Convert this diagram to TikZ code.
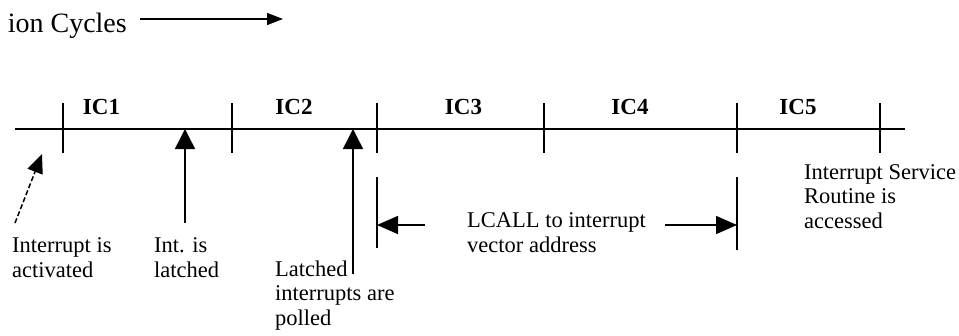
\documentclass[tikz,border=0pt]{standalone}
\usepackage{fontspec}
\setmainfont{Liberation Serif}
\usetikzlibrary{arrows.meta}
\begin{document}
\begin{tikzpicture}[x=1pt,y=-1pt,
  lbl/.style={font=\fontsize{22.5}{24.5}\selectfont, anchor=base west, inner sep=0pt, align=left},
  iclbl/.style={font=\fontsize{23}{26}\selectfont\bfseries, anchor=base, inner sep=0pt},
  axisline/.style={line width=1.6pt},
  tickline/.style={line width=1.5pt},
  shaft/.style={line width=1.5pt},
  uptip/.style={shaft, -{Triangle[length=20pt,width=20pt]}},
  sidetip/.style={shaft, -{Triangle[length=21pt,width=18pt]}},
  dashtip/.style={shaft, dash pattern=on 5pt off 2.5pt, -{Triangle[length=19pt,width=16pt]}},
  toptip/.style={line width=1.3pt, -{Triangle[length=16pt,width=12pt]}}
]
\useasboundingbox (0,0) rectangle (959,335);

% heading
\node[font=\fontsize{28}{30}\selectfont, anchor=base east, inner sep=0pt] (head) at (127,32) {ion Cycles};
\coordinate (hs) at (140,19);
\coordinate (he) at (283,19);
\draw[toptip] (hs) -- (he);

% timeline
\coordinate (tl0) at (15,129);
\coordinate (tl1) at (905,129);
\draw[axisline] (tl0) -- (tl1);

% ticks
\foreach \n/\x in {a/63,b/232,c/377,d/544,e/737,f/880}{
  \coordinate (tk\n t) at (\x,103);
  \coordinate (tk\n b) at (\x,153);
  \draw[tickline] (tk\n t) -- (tk\n b);
}
\coordinate (xc1) at (377,177);
\coordinate (xc2) at (377,248);
\coordinate (xe1) at (737,177);
\coordinate (xe2) at (737,250);
\draw[tickline] (xc1) -- (xc2);
\draw[tickline] (xe1) -- (xe2);

% cycle labels
\node[iclbl] (ic1) at (101.5,114) {IC1};
\node[iclbl] (ic2) at (294,114) {IC2};
\node[iclbl] (ic3) at (463.5,114) {IC3};
\node[iclbl] (ic4) at (630,114) {IC4};
\node[iclbl] (ic5) at (798,114) {IC5};

% texts (anchored at the baseline of the last line)
\node[lbl] (act) at (12,277) {Interrupt is\\activated};
\node[lbl] (lat) at (154,277) {Int. is\\latched};
\node[lbl] (pol) at (275,325) {Latched\\interrupts are\\polled};
\node[lbl] (lcall) at (467,252) {LCALL to interrupt\\vector address};
\node[lbl] (isr) at (804,228) {Interrupt Service\\Routine is\\accessed};

% arrows
\coordinate (d0) at (15,223);
\coordinate (d1) at (42,154);
\draw[dashtip] (d0) -- (d1);

\coordinate (u1b) at (185,223);
\coordinate (u1t) at (185,129);
\draw[uptip] (u1b) -- (u1t);

\coordinate (u2b) at (353,274);
\coordinate (u2t) at (353,129);
\draw[uptip] (u2b) -- (u2t);

\coordinate (l0) at (425,225);
\coordinate (l1) at (377,225);
\draw[sidetip] (l0) -- (l1);

\coordinate (r0) at (665,225);
\coordinate (r1) at (737,225);
\draw[sidetip] (r0) -- (r1);
\end{tikzpicture}
\end{document}
